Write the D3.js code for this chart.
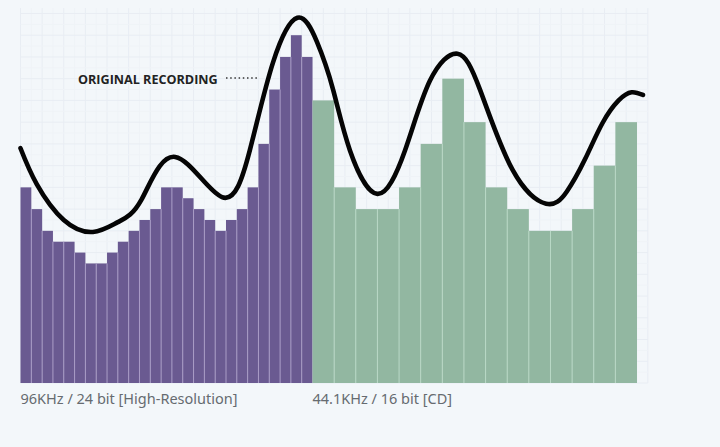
<!DOCTYPE html><meta charset="utf-8">
<html>
    <head>
        <title>High resolution vs CD sampling</title>
        <script src="https://cdn.jsdelivr.net/npm/d3@7/dist/d3.min.js"></script>
        <style>
            html, body { margin: 0; padding: 0; background: #f3f7fa; }
            svg { display: block; }
        </style>
    </head>
    <body>
        <svg id="viz" width="720" height="447"></svg>

        <script>
            // bar heights in quantisation steps
            var hiResValues = [18, 16, 14, 13, 13, 12, 11, 11, 12, 13, 14, 15, 16, 18, 18, 17, 16, 15, 14, 15, 16, 18, 22, 27, 30, 32, 30];
            var cdValues = [26, 18, 16, 16, 18, 22, 28, 24, 18, 16, 14, 14, 16, 20, 24];

            // the original recording: extremes and mid slopes
            var curveTime = [0, 1.5, 4, 6.7, 9, 11.2, 14.3, 18.63, 21.2, 23.35, 25.6, 27.4, 28.9, 30.46, 33, 35.55, 37.85, 40.4, 42.5, 45.5, 48.6, 50.5, 52.2, 53.8, 55.3, 56.5, 57.55];
            var curveLevel = [21.6, 18.3, 15, 13.9, 14.8, 16.9, 20.8, 17.1, 21.4, 29.5, 33.6, 31.4, 27, 21.4, 17.4, 21.4, 27.8, 30.3, 26.95, 19.6, 16.5, 17.6, 20.6, 23.9, 26, 26.75, 26.5];

            var hiResLabel = "96KHz / 24 bit [High-Resolution]";
            var cdLabel = "44.1KHz / 16 bit [CD]";
            var curveLabel = "ORIGINAL RECORDING";

            var svg = d3.select("#viz");

            // one time unit = one hi-res sample, a CD sample spans two
            var x = d3.scaleLinear().domain([0, 57]).range([20.5, 637]);
            var y = d3.scaleLinear().domain([0, 32]).range([383, 35.2]);

            // background grid
            var grid = svg.append("g");
            d3.range(0, 59).forEach(function(t) {
                grid.append("line")
                    .attr("x1", x(t)).attr("x2", x(t))
                    .attr("y1", y(34.5)).attr("y2", y(0))
                    .attr("stroke", t % 2 == 0 ? "#e8edf3" : "#eff3f7")
                    .attr("stroke-width", 1);
            });
            d3.range(0, 35).forEach(function(l) {
                grid.append("line")
                    .attr("x1", x(0)).attr("x2", x(58))
                    .attr("y1", y(l)).attr("y2", y(l))
                    .attr("stroke", l % 2 == 0 ? "#e8edf3" : "#eff3f7")
                    .attr("stroke-width", 1);
            });

            function drawBars(values, start, step, fill, sep) {
                var g = svg.append("g");
                g.selectAll("rect").data(values).enter().append("rect")
                    .attr("x", function(d, i) { return x(start + i * step); })
                    .attr("y", function(d) { return y(d); })
                    .attr("width", x(step) - x(0))
                    .attr("height", function(d) { return y(0) - y(d); })
                    .attr("fill", fill);
                // thin light gap between neighbours
                g.selectAll("line").data(values.slice(1)).enter().append("line")
                    .attr("x1", function(d, i) { return x(start + (i + 1) * step); })
                    .attr("x2", function(d, i) { return x(start + (i + 1) * step); })
                    .attr("y1", function(d, i) { return y(Math.min(d, values[i])); })
                    .attr("y2", y(0))
                    .attr("stroke", sep)
                    .attr("stroke-width", 1);
            }

            drawBars(hiResValues, 0, 1, "#6a5a91", "#a99cc6");
            drawBars(cdValues, 27, 2, "#92b7a1", "#b9d8c6");

            var line = d3.line()
                .x(function(d) { return x(d[0]); })
                .y(function(d) { return y(d[1]); })
                .curve(d3.curveNatural);

            svg.append("path")
                .datum(d3.zip(curveTime, curveLevel))
                .attr("d", line)
                .attr("fill", "none")
                .attr("stroke", "#050505")
                .attr("stroke-width", 4.6)
                .attr("stroke-linecap", "round")
                .attr("stroke-linejoin", "round");

            // label and its dotted leader
            svg.append("text")
                .attr("x", 78).attr("y", 84)
                .attr("font-family", "'Open Sans', sans-serif")
                .attr("font-size", 12.6)
                .attr("font-weight", 700)
                .attr("fill", "#222")
                .text(curveLabel);

            svg.append("line")
                .attr("x1", 226).attr("x2", 258)
                .attr("y1", 78).attr("y2", 78)
                .attr("stroke", "#333")
                .attr("stroke-width", 1.5)
                .attr("stroke-dasharray", "1.5 2.7");

            svg.selectAll("text.axis").data([[0, hiResLabel], [27, cdLabel]]).enter().append("text")
                .attr("class", "axis")
                .attr("x", function(d) { return x(d[0]); })
                .attr("y", 404)
                .attr("font-family", "'Noto Sans', sans-serif")
                .attr("font-size", 14.5)
                .attr("fill", "#666b70")
                .text(function(d) { return d[1]; });
        </script>
    </body>
</html>
